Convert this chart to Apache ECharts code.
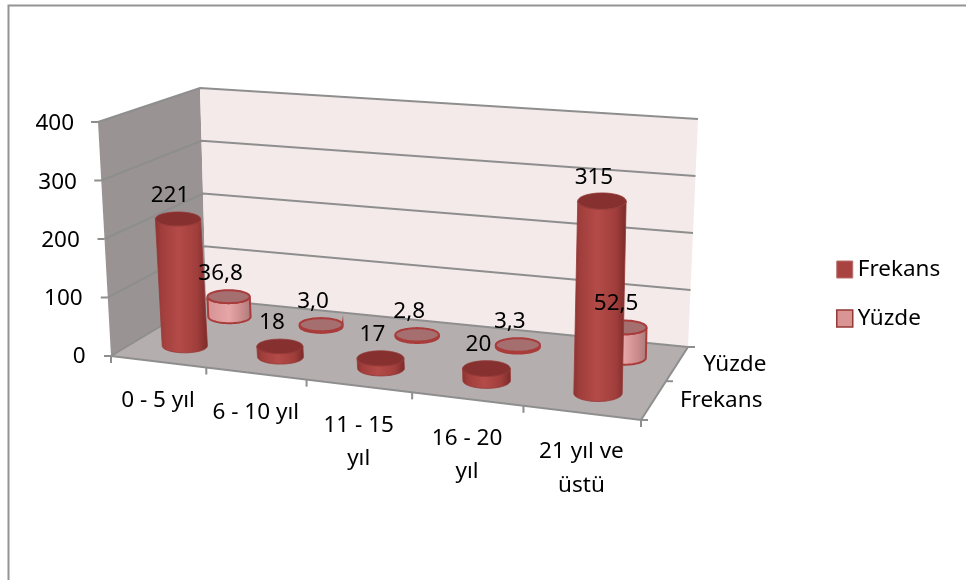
<!DOCTYPE html>
<html>
<head>
<meta charset="utf-8">
<style>html,body{margin:0;padding:0;background:#fff}#chart{width:966px;height:580px}</style>
<script src="https://cdn.jsdelivr.net/npm/echarts@6/dist/echarts.min.js"></script>
</head>
<body>
<div id="chart"></div>
<script>
// Chart data
const categories = ['0 - 5 yıl', '6 - 10 yıl', '11 - 15\nyıl', '16 - 20\nyıl', '21 yıl ve\nüstü'];
const frekans = [221, 18, 17, 20, 315];
const yuzde = [36.8, 3.0, 2.8, 3.3, 52.5];
const valueTicks = [0, 100, 200, 300, 400];
const depthNames = ['Frekans', 'Yüzde'];
const depthSlots = [0.25, 0.75];

const FONT = '"Noto Sans", sans-serif';
const FONT_SIZE = 22.5;
const N = categories.length;

// Box corners on screen: front-left, front-right, back-right, back-left
const floorQuad = [[111, 356], [641, 420], [688, 347], [206, 299]];
const ceilingQuad = [[98, 122], [654, 168], [698, 119], [200, 88]];

// Homography taking the unit square onto a quadrilateral
function homography(quad) {
  const [[x0, y0], [x1, y1], [x2, y2], [x3, y3]] = quad;
  const dx1 = x1 - x2, dx2 = x3 - x2, sx = x0 - x1 + x2 - x3;
  const dy1 = y1 - y2, dy2 = y3 - y2, sy = y0 - y1 + y2 - y3;
  const den = dx1 * dy2 - dx2 * dy1;
  const g = (sx * dy2 - dx2 * sy) / den, h = (dx1 * sy - sx * dy1) / den;
  const a = x1 - x0 + g * x1, b = x3 - x0 + h * x3, d = y1 - y0 + g * y1, e = y3 - y0 + h * y3;
  return (s, w) => {
    const W = g * s + h * w + 1;
    return [(a * s + b * w + x0) / W, (d * s + e * w + y0) / W];
  };
}
const floorMap = homography(floorQuad);
const ceilingMap = homography(ceilingQuad);

// u: category position 0..N, w: depth 0 (front)..1 (back), t: height 0..1
function project(u, w, t) {
  const s0 = u / N;
  const s = s0 + 0.025 * s0 * (1 - s0); // slightly gentler foreshortening along the category axis
  const f = floorMap(s, w), c = ceilingMap(s, w);
  return [f[0] + (c[0] - f[0]) * t, f[1] + (c[1] - f[1]) * t];
}

// Normalise a point from the hidden cartesian axes
function fromAxes(api, params, cat, val) {
  const p = api.coord([cat, val]);
  const cs = params.coordSys;
  return { u: (p[0] - cs.x) / cs.width * N, t: (cs.y + cs.height - p[1]) / cs.height };
}

function textEl(x, y, text, align, vAlign, extra) {
  return {
    type: 'text', z2: 100, silent: true, x, y,
    style: Object.assign({ text, fill: '#000', fontFamily: FONT, fontSize: FONT_SIZE, align, verticalAlign: vAlign }, extra || {})
  };
}

function lineEl(points, color, width, z2) {
  return { type: 'polyline', z2, silent: true, shape: { points }, style: { stroke: color, lineWidth: width, fill: 'none' } };
}

// Walls, floor, gridlines, ticks and axis labels of the 3D box
function renderBox(params, api) {
  const kids = [];
  const poly = (pts, fill) => kids.push({ type: 'polygon', z2: 1, silent: true, shape: { points: pts }, style: { fill } });
  const c = project;
  poly([c(0, 0, 0), c(0, 1, 0), c(0, 1, 1), c(0, 0, 1)], '#999393');
  poly([c(0, 1, 0), c(N, 1, 0), c(N, 1, 1), c(0, 1, 1)], '#f5eaea');
  poly([c(0, 0, 0), c(N, 0, 0), c(N, 1, 0), c(0, 1, 0)], '#b5aeae');

  const GRID = '#8e8e8e';
  const LW = 2;
  valueTicks.forEach(v => {
    const t = fromAxes(api, params, 0, v).t;
    kids.push(lineEl([c(0, 0, t), c(0, 1, t), c(N, 1, t)], GRID, LW, 2));
    const p = c(0, 0, t);
    kids.push(lineEl([[p[0] - 7, p[1]], p], GRID, LW, 2));
    kids.push(textEl(p[0] - 24 - 1.5 * (1 - t), p[1] + 1 + t, String(v), 'right', 'middle'));
  });
  kids.push(lineEl([c(0, 0, 0), c(N, 0, 0), c(N, 1, 0)], GRID, LW, 2));
  for (let i = 0; i <= N; i++) {
    const p = c(i, 0, 0);
    kids.push(lineEl([p, [p[0], p[1] + 7]], GRID, LW, 2));
  }
  [0, 0.5, 1].forEach(w => {
    const p = c(N, w, 0);
    kids.push(lineEl([p, [p[0] + 7, p[1]]], GRID, LW, 2));
  });
  categories.forEach((name, i) => {
    const p = c(fromAxes(api, params, i, 0).u, 0, 0);
    kids.push(textEl(p[0], p[1] + 22.5, name, 'center', 'top', { lineHeight: 33.5 }));
  });
  depthNames.forEach((name, i) => {
    const p = c(N, depthSlots[i], 0);
    kids.push(textEl(p[0] + 26, p[1] + 1, name, 'left', 'middle'));
  });
  return { type: 'group', children: kids };
}

// Half of an axis-aligned ellipse; dir 1 runs through the front, -1 through the back
function arc(cx, cy, rx, ry, dir) {
  const pts = [];
  for (let k = 0; k <= 32; k++) {
    const a = Math.PI * k / 32;
    pts.push([cx - rx * Math.cos(a), cy + dir * ry * Math.sin(a)]);
  }
  return pts;
}

function cylinderRenderer(w, look, format) {
  return function (params, api) {
    const pos = fromAxes(api, params, api.value(0), api.value(1));
    const base = project(pos.u, w, 0);
    const top = project(pos.u, w, pos.t);
    base[0] += look.dx;
    top[0] += look.dx;
    const rx = look.rx + look.rxGrow * pos.u;
    const ry = look.ry + look.ryGrow * pos.u;
    const side = arc(base[0], base[1], rx, ry, 1).concat(arc(top[0], top[1], rx, ry, 1).reverse());
    const cap = arc(top[0], top[1], rx, ry, -1).concat(arc(top[0], top[1], rx, ry, 1).reverse());
    return {
      type: 'group',
      children: [
        { type: 'polygon', z2: look.z2, silent: true, shape: { points: side },
          style: { fill: new echarts.graphic.LinearGradient(0, 0, 1, 0, look.side), stroke: look.edge, lineWidth: look.edgeWidth } },
        { type: 'polygon', z2: look.z2 + 1, silent: true, shape: { points: cap },
          style: { fill: look.cap, stroke: look.edge, lineWidth: look.edgeWidth } },
        textEl(top[0] - 8, top[1] - 23.5, format(api.value(1)), 'center', 'middle')
      ]
    };
  };
}

const darkLook = {
  side: [
    { offset: 0, color: '#8b3331' }, { offset: 0.12, color: '#a03e3c' }, { offset: 0.45, color: '#b44b48' },
    { offset: 0.8, color: '#a03e3c' }, { offset: 1, color: '#7a2a29' }
  ],
  cap: '#863130', edge: '#963836', edgeWidth: 0.8, z2: 30, dx: 2, rx: 22.4, rxGrow: 0.4, ry: 6.8, ryGrow: 0.3
};
const lightLook = {
  side: [
    { offset: 0, color: '#d49294' }, { offset: 0.5, color: '#e6a5a7' },
    { offset: 0.8, color: '#c98a8b' }, { offset: 1, color: '#a57a7a' }
  ],
  cap: '#a56e6f', edge: '#a93c3b', edgeWidth: 2, z2: 10, dx: 1, rx: 21, rxGrow: 0.3, ry: 6.4, ryGrow: 0.1
};

const chart = echarts.init(document.getElementById('chart'), null, { renderer: 'canvas' });
chart.setOption({
  animation: false,
  backgroundColor: '#fff',
  grid: { left: 100, top: 122, width: 500, height: 233, show: false },
  xAxis: { type: 'category', data: categories, show: false },
  yAxis: { type: 'value', min: 0, max: 400, interval: 100, show: false },
  legend: {
    orient: 'vertical', left: 836, top: 258, padding: 0, itemWidth: 16, itemHeight: 17, itemGap: 26,
    selectedMode: false, icon: 'rect',
    textStyle: { fontFamily: FONT, fontSize: FONT_SIZE, color: '#000', padding: [0, 0, 0, 0] },
    data: [
      { name: 'Frekans', itemStyle: { color: '#a84341', borderColor: '#b9706f', borderWidth: 1 } },
      { name: 'Yüzde', itemStyle: { color: '#d99594', borderColor: '#953735', borderWidth: 1.5 } }
    ]
  },
  graphic: [{
    type: 'polyline', silent: true,
    shape: { points: [[966, 5.5], [8.5, 5.5], [8.5, 580]] },
    style: { stroke: '#949494', lineWidth: 2, fill: 'none' }
  }],
  series: [
    { type: 'custom', name: 'box', silent: true, coordinateSystem: 'cartesian2d', data: [[0, 0]], encode: { x: 0, y: 1 }, renderItem: renderBox },
    {
      type: 'custom', name: 'Yüzde', coordinateSystem: 'cartesian2d', encode: { x: 0, y: 1 }, silent: true,
      itemStyle: { color: '#d99594' }, data: yuzde.map((v, i) => [i, v]),
      renderItem: cylinderRenderer(depthSlots[1], lightLook, v => v.toFixed(1).replace('.', ','))
    },
    {
      type: 'custom', name: 'Frekans', coordinateSystem: 'cartesian2d', encode: { x: 0, y: 1 }, silent: true,
      itemStyle: { color: '#a84341' }, data: frekans.map((v, i) => [i, v]),
      renderItem: cylinderRenderer(depthSlots[0], darkLook, v => String(v))
    }
  ]
});
</script>
</body>
</html>
